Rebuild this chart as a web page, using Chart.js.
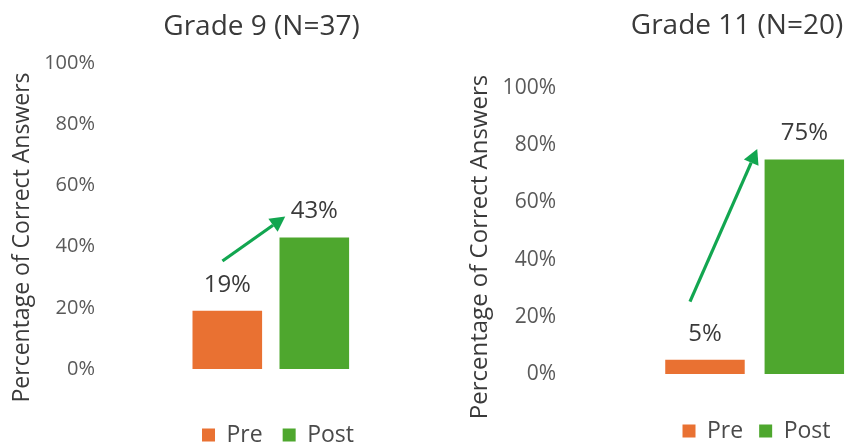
<!DOCTYPE html>
<html>
<head>
<meta charset="utf-8">
<script src="https://cdn.jsdelivr.net/npm/chart.js@4.4.1/dist/chart.umd.min.js"></script>
<style>
  html, body { margin: 0; padding: 0; background: #ffffff; overflow: hidden; width: 851px; height: 448px; }
  .panel { position: absolute; top: 0; height: 448px; }
  #panel9 { left: 0; width: 425px; }
  #panel11 { left: 425px; width: 440px; }
</style>
</head>
<body>
<div class="panel" id="panel9"><canvas id="chart9"></canvas></div>
<div class="panel" id="panel11"><canvas id="chart11"></canvas></div>
<script>
// Share of correct answers before and after the unit, per grade
const phases = ['Pre', 'Post'];
const grade9Values = [19, 43];
const grade11Values = [5, 75];
const percentTicks = [0, 20, 40, 60, 80, 100];
const grade9Title = 'Grade 9 (N=37)';
const grade11Title = 'Grade 11 (N=20)';
const yAxisTitle = 'Percentage of Correct Answers';
const phaseColors = ['#E97132', '#4EA72E'];

const FONT = '"Open Sans", "DejaVu Sans", sans-serif';
const TEXT = '#3a3a3a';
const TICK_TEXT = '#595959';

// Draws an arrow with a filled head between two canvas points
function drawArrow(ctx, x1, y1, x2, y2, color, width, headLen, headHalf) {
  const a = Math.atan2(y2 - y1, x2 - x1);
  const bx = x2 - headLen * Math.cos(a);
  const by = y2 - headLen * Math.sin(a);
  ctx.save();
  ctx.strokeStyle = color;
  ctx.fillStyle = color;
  ctx.lineWidth = width;
  ctx.lineCap = 'butt';
  ctx.beginPath();
  ctx.moveTo(x1, y1);
  ctx.lineTo(bx, by);
  ctx.stroke();
  ctx.beginPath();
  ctx.moveTo(x2, y2);
  ctx.lineTo(bx + headHalf * Math.sin(a), by - headHalf * Math.cos(a));
  ctx.lineTo(bx - headHalf * Math.sin(a), by + headHalf * Math.cos(a));
  ctx.closePath();
  ctx.fill();
  ctx.restore();
}

// Places the title and legend, writes the value labels, the rotated axis
// title and the change arrow for one panel.
const panelText = {
  id: 'panelText',
  afterLayout(chart, args, o) {
    const t = chart.titleBlock;
    if (t && o.titleX != null) {
      const dx = o.titleX - (t.left + t.right) / 2;
      t.left += dx; t.right += dx;
    }
    const lg = chart.legend;
    if (lg && o.legendX != null) {
      const lo = lg.options.labels;
      const fs = lo.font.size;
      const ih = Math.max(fs, lo.boxHeight || fs);
      const dx = o.legendX - (lg.left + lg.right) / 2;
      const dy = o.legendY - (lg.top + lo.padding + ih / 2);
      lg.left += dx; lg.right += dx; lg.top += dy; lg.bottom += dy;
    }
  },
  afterDatasetsDraw(chart, args, o) {
    const ctx = chart.ctx;
    const xs = chart.scales.x;
    const ys = chart.scales.y;
    ctx.save();
    ctx.font = o.labelSize + 'px ' + FONT;
    ctx.fillStyle = TEXT;
    ctx.textAlign = 'center';
    ctx.textBaseline = 'middle';
    chart.data.datasets.forEach((ds, di) => {
      const meta = chart.getDatasetMeta(di);
      meta.data.forEach((bar, i) => {
        const v = ds.data[i];
        if (v == null) return;
        ctx.fillText(v + '%', bar.x, bar.y - o.labelGap);
      });
    });
    ctx.restore();
    if (o.arrow) {
      const p = pt => [xs.getPixelForValue(pt[0]), ys.getPixelForValue(pt[1])];
      const [x1, y1] = p(o.arrow.from);
      const [x2, y2] = p(o.arrow.to);
      drawArrow(ctx, x1, y1, x2, y2, '#12A650', 3.2, 15, 8);
    }
  },
  afterDraw(chart, args, o) {
    const ctx = chart.ctx;
    ctx.save();
    ctx.translate(o.axisTitleX, o.axisTitleY);
    ctx.rotate(-Math.PI / 2);
    ctx.font = o.axisTitleSize + 'px ' + FONT;
    ctx.fillStyle = TEXT;
    ctx.textAlign = 'center';
    ctx.textBaseline = 'middle';
    ctx.fillText(yAxisTitle, 0, 0);
    ctx.restore();
  }
};

function makePanel(canvasId, values, title, cfg) {
  const datasets = phases.map((phase, i) => ({
    label: phase,
    data: phases.map((_, j) => (j === i ? values[i] : null)),
    backgroundColor: phaseColors[i],
    borderWidth: 0,
    grouped: false,
    categoryPercentage: 0.8,
    barPercentage: 1
  }));
  return new Chart(document.getElementById(canvasId), {
    type: 'bar',
    data: { labels: phases, datasets },
    plugins: [panelText],
    options: {
      responsive: true,
      maintainAspectRatio: false,
      animation: false,
      events: [],
      layout: { padding: { left: 0, right: cfg.padRight, top: 0, bottom: cfg.padBottom } },
      scales: {
        x: { display: false },
        y: {
          min: 0,
          max: 100,
          afterBuildTicks: s => { s.ticks = percentTicks.map(v => ({ value: v })); },
          afterFit: s => {
            // fixed axis band; the wide label gap must not push the plot inward vertically
            s.width = cfg.axisWidth;
            s.paddingTop = 0;
            s.paddingBottom = 0;
          },
          grid: { display: false, drawTicks: false },
          border: { display: false },
          ticks: {
            padding: cfg.tickPad,
            color: TICK_TEXT,
            font: { family: FONT, size: cfg.tickSize },
            callback: v => v + '%'
          }
        }
      },
      plugins: {
        tooltip: { enabled: false },
        title: {
          display: true,
          text: title,
          color: TEXT,
          font: { family: FONT, size: 28, weight: 'normal' },
          padding: { top: cfg.titleTop, bottom: cfg.titleBottom }
        },
        legend: {
          position: 'bottom',
          labels: {
            color: '#4a4a4a',
            font: { family: FONT, size: 23 },
            boxWidth: 13,
            boxHeight: 13,
            padding: cfg.legendPad
          }
        },
        panelText: {
          titleX: cfg.titleX,
          legendX: cfg.legendX,
          legendY: cfg.legendY,
          axisTitleX: cfg.axisTitleX,
          axisTitleY: cfg.axisTitleY,
          axisTitleSize: cfg.axisTitleSize,
          labelSize: 24,
          labelGap: 26,
          arrow: cfg.arrow
        }
      }
    }
  });
}

makePanel('chart9', grade9Values, grade9Title, {
  padRight: 67.2, padBottom: 26, axisWidth: 183.8, tickPad: 88.8, tickSize: 20,
  titleTop: 10, titleBottom: 19.4, titleX: 261.5,
  legendPad: 20, legendX: 278, legendY: 435,
  axisTitleX: 22.5, axisTitleY: 237.5, axisTitleSize: 23,
  arrow: { from: [-0.056, 35.3], to: [0.666, 49.8] }
});

makePanel('chart11', grade11Values, grade11Title, {
  padRight: 11, padBottom: 25, axisWidth: 230.3, tickPad: 99.3, tickSize: 21,
  titleTop: 9, titleBottom: 45.4, titleX: 312,
  legendPad: 16, legendX: 331.5, legendY: 431,
  axisTitleX: 55, axisTitleY: 247, axisTitleSize: 24,
  arrow: { from: [-0.151, 25.3], to: [0.526, 78.7] }
});
</script>
</body>
</html>
